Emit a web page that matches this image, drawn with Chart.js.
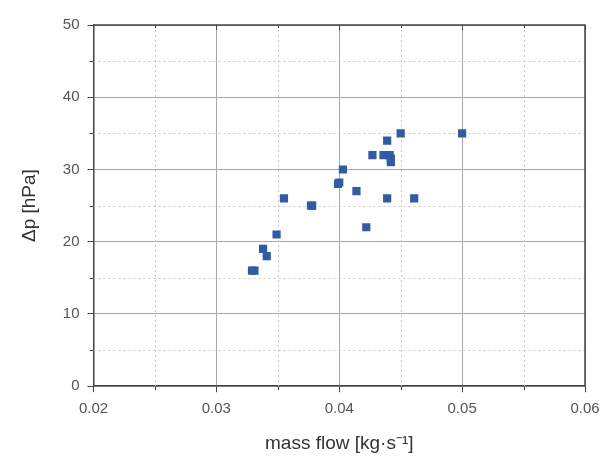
<!DOCTYPE html>
<html>
<head>
<meta charset="utf-8">
<script src="https://cdn.jsdelivr.net/npm/chart.js@4"></script>
<style>
  html, body { margin: 0; padding: 0; background: #fff; }
  #wrap { width: 604px; height: 457px; }
</style>
</head>
<body>
<div id="wrap"><canvas id="chart_dp"></canvas></div>
<script>
// mass flow [kg/s] vs pressure drop [hPa]
var massFlow = [0.0329, 0.0331, 0.0338, 0.0341, 0.0349, 0.0355, 0.0377, 0.0378, 0.0399, 0.0400,
                0.0403, 0.0414, 0.0422, 0.0427, 0.0436, 0.0439, 0.0439, 0.0441, 0.0442, 0.0442,
                0.0450, 0.0461, 0.0500];
var deltaP   = [16, 16, 19, 18, 21, 26, 25, 25, 28, 28.2,
                30, 27, 22, 32, 32, 34, 26, 32, 31.5, 31,
                35, 26, 35];
var xTicks = [0.02, 0.03, 0.04, 0.05, 0.06];
var yTicks = [0, 10, 20, 30, 40, 50];

var points = massFlow.map(function (m, i) { return { x: m, y: deltaP[i] }; });

// minor dotted grid, minor ticks, top/right frame
var frame = {
  id: 'frame',
  beforeDatasetsDraw: function (chart) {
    var ctx = chart.ctx, a = chart.chartArea;
    var sx = chart.scales.x, sy = chart.scales.y;
    ctx.save();
    ctx.strokeStyle = '#c8c8c8';
    ctx.lineWidth = 1;
    ctx.setLineDash([2, 3]);
    for (var i = 0; i < xTicks.length - 1; i++) {
      var px = Math.round(sx.getPixelForValue((xTicks[i] + xTicks[i + 1]) / 2)) + 0.5;
      ctx.beginPath(); ctx.moveTo(px, a.top); ctx.lineTo(px, a.bottom); ctx.stroke();
    }
    for (var j = 0; j < yTicks.length - 1; j++) {
      var py = Math.round(sy.getPixelForValue((yTicks[j] + yTicks[j + 1]) / 2)) + 0.5;
      ctx.beginPath(); ctx.moveTo(a.left, py); ctx.lineTo(a.right, py); ctx.stroke();
    }
    ctx.restore();
  },
  afterDraw: function (chart) {
    var ctx = chart.ctx, a = chart.chartArea;
    var sx = chart.scales.x, sy = chart.scales.y;
    ctx.save();
    ctx.strokeStyle = '#444';
    ctx.lineWidth = 1.5;
    ctx.beginPath();
    ctx.moveTo(a.left, a.top); ctx.lineTo(a.right, a.top); ctx.lineTo(a.right, a.bottom);
    ctx.stroke();
    ctx.lineWidth = 1;
    ctx.beginPath();
    xTicks.forEach(function (v, i) {
      var px = Math.round(sx.getPixelForValue(v)) + 0.5;
      ctx.moveTo(px, a.top); ctx.lineTo(px, a.top + 5);
      if (i < xTicks.length - 1) {
        var pm = Math.round(sx.getPixelForValue((v + xTicks[i + 1]) / 2)) + 0.5;
        ctx.moveTo(pm, a.bottom); ctx.lineTo(pm, a.bottom + 4);
        ctx.moveTo(pm, a.top); ctx.lineTo(pm, a.top + 3);
      }
    });
    yTicks.forEach(function (v, i) {
      if (i < yTicks.length - 1) {
        var pm = Math.round(sy.getPixelForValue((v + yTicks[i + 1]) / 2)) + 0.5;
        ctx.moveTo(a.left, pm); ctx.lineTo(a.left - 4, pm);
      }
    });
    ctx.stroke();
    ctx.restore();
  }
};

var dp = document.getElementById('chart_dp').getContext('2d');
var dpChart = new Chart(dp, {
  type: 'scatter',
  data: {
    datasets: [{
      label: 'Δp',
      data: points,
      pointStyle: 'rect',
      pointRadius: 5.8,
      pointHoverRadius: 6,
      backgroundColor: '#2f5ca8',
      borderColor: '#2f5ca8',
      borderWidth: 0
    }]
  },
  options: {
    responsive: true,
    maintainAspectRatio: false,
    animation: false,
    layout: { padding: { top: 25, right: 0, left: 18, bottom: 2 } },
    plugins: { legend: { display: false }, tooltip: { enabled: false } },
    scales: {
      x: {
        type: 'linear',
        min: 0.02, max: 0.06,
        afterBuildTicks: function (s) { s.ticks = xTicks.map(function (v) { return { value: v }; }); },
        afterFit: function (s) { s.paddingRight = 19; },
        ticks: {
          font: { family: 'Liberation Sans', size: 15 },
          color: '#555',
          padding: 8,
          maxRotation: 0,
          callback: function (v) { return v.toFixed(2); }
        },
        grid: { color: '#a8a8a8', lineWidth: 1, tickLength: 6, tickColor: '#444' },
        border: { color: '#444', width: 1.5 },
        title: {
          display: true,
          text: 'mass flow [kg·s⁻¹]',
          font: { family: 'Liberation Sans', size: 19 },
          color: '#333',
          padding: { top: 6, bottom: 0 }
        }
      },
      y: {
        min: 0, max: 50,
        afterBuildTicks: function (s) { s.ticks = yTicks.map(function (v) { return { value: v }; }); },
        ticks: {
          font: { family: 'Liberation Sans', size: 15 },
          color: '#555',
          padding: 8
        },
        grid: { color: '#a8a8a8', lineWidth: 1, tickLength: 6, tickColor: '#444' },
        border: { color: '#444', width: 1.5 },
        title: {
          display: true,
          text: 'Δp [hPa]',
          font: { family: 'Liberation Sans', size: 19 },
          color: '#333',
          padding: { top: 0, bottom: 14 }
        }
      }
    }
  },
  plugins: [frame]
});
</script>
</body>
</html>
